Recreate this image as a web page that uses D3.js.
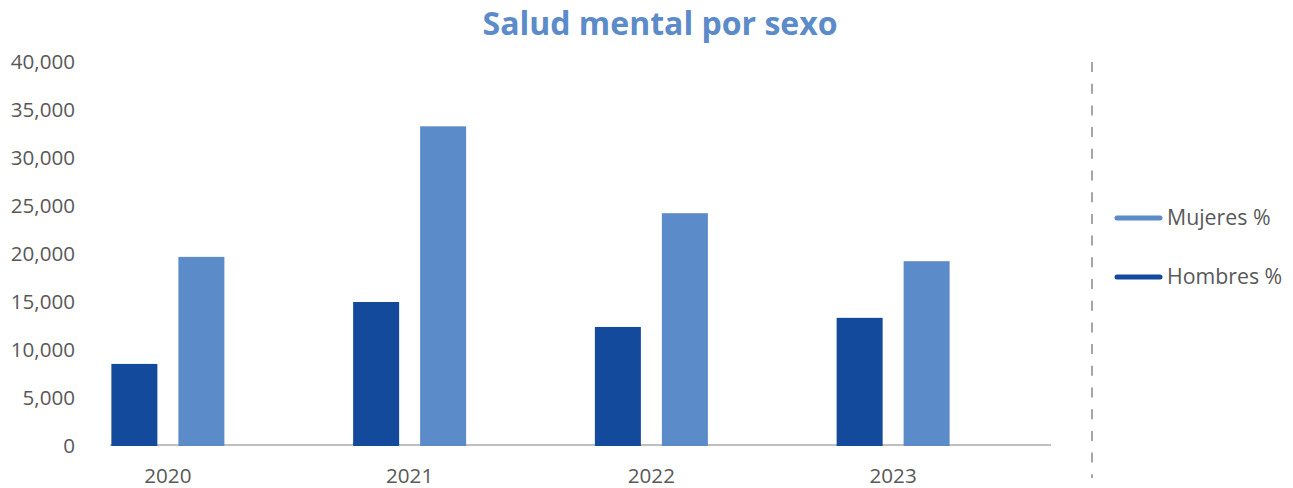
<!DOCTYPE html>
<html><head><meta charset="utf-8">
<script src="https://cdn.jsdelivr.net/npm/d3@7/dist/d3.min.js"></script>
<style>body{margin:0;background:#fff}svg{display:block}text{font-family:"Open Sans",sans-serif}</style>
</head><body>
<svg id="c" width="1293" height="488"></svg>
<script>
const years = ["2020","2021","2022","2023"];
const series = ["Hombres %","Mujeres %"];
const hombres = [8550, 15000, 12400, 13350];
const mujeres = [19700, 33300, 24250, 19250];
const yTicks = [0,5000,10000,15000,20000,25000,30000,35000,40000];
const title = "Salud mental por sexo";
const colors = {"Hombres %":"#134A9C","Mujeres %":"#5B8BC9"};

const svg = d3.select("#c");
const y = d3.scaleLinear().domain([0,40000]).range([446,62]);
const x0 = d3.scaleBand().domain(years).range([47,1014]);
const x1 = d3.scaleBand().domain(series).range([0,113]).paddingInner(21/67).paddingOuter(0);

svg.append("text").attr("x",660).attr("y",35).attr("text-anchor","middle")
  .attr("font-size",32).attr("font-weight","bold").attr("fill","#5B8BC9").text(title);

// y axis labels
const fmt = d3.format(",");
svg.append("g").selectAll("text").data(yTicks).join("text")
  .attr("x",75).attr("y",d=>y(d)).attr("dy","0.35em").attr("text-anchor","end")
  .attr("font-size",20.6).attr("fill","#595959").text(d=>fmt(d));

// baseline
svg.append("line").attr("x1",110).attr("x2",1051).attr("y1",y(0)-1).attr("y2",y(0)-1)
  .attr("stroke","#BFBFBF").attr("stroke-width",2);

const data = years.map((yr,i)=>({year:yr, vals:[{k:"Hombres %",v:hombres[i]},{k:"Mujeres %",v:mujeres[i]}]}));
const g = svg.append("g").selectAll("g").data(data).join("g")
  .attr("transform",d=>`translate(${x0(d.year)+x0.bandwidth()/2-56.5},0)`);
g.selectAll("rect").data(d=>d.vals).join("rect")
  .attr("x",d=>x1(d.k)).attr("width",x1.bandwidth())
  .attr("y",d=>y(d.v)).attr("height",d=>y(0)-y(d.v)).attr("fill",d=>colors[d.k]);

// x labels
svg.append("g").selectAll("text").data(years).join("text")
  .attr("x",d=>x0(d)+x0.bandwidth()/2).attr("y",483).attr("text-anchor","middle")
  .attr("font-size",20.6).attr("fill","#595959").text(d=>d);

// dashed separator
svg.append("line").attr("x1",1092).attr("x2",1092).attr("y1",62).attr("y2",478)
  .attr("stroke","#A6A6A6").attr("stroke-width",2).attr("stroke-dasharray","10,11.7");

// legend
const legend = ["Mujeres %","Hombres %"];
const lg = svg.append("g").selectAll("g").data(legend).join("g")
  .attr("transform",(d,i)=>`translate(0,${218+i*59})`);
lg.append("line").attr("x1",1117).attr("x2",1160).attr("stroke",d=>colors[d])
  .attr("stroke-width",5).attr("stroke-linecap","round");
lg.append("text").attr("x",1167).attr("dy","0.35em").attr("font-size",21.3)
  .attr("fill","#595959").text(d=>d);
</script>
</body></html>
